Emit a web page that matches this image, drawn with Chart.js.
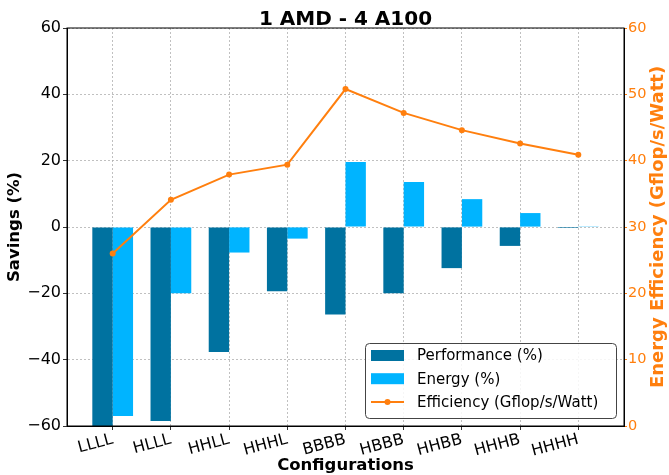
<!DOCTYPE html>
<html>
<head>
<meta charset="utf-8">
<script src="https://cdn.jsdelivr.net/npm/chart.js@4"></script>
<style>
  html, body { margin: 0; padding: 0; background: #fff; }
  #wrap { width: 669px; height: 475px; }
</style>
</head>
<body>
<div id="wrap"><canvas id="chart" width="669" height="475"></canvas></div>
<script>
// Data
const configs = ['LLLL', 'HLLL', 'HHLL', 'HHHL', 'BBBB', 'HBBB', 'HHBB', 'HHHB', 'HHHH'];
const performance = [-61, -58.5, -37.7, -19.4, -26.4, -20.0, -12.4, -5.7, -0.3];
const energy = [-57.0, -20.0, -7.7, -3.5, 19.6, 13.6, 8.4, 4.2, 0.2];
const efficiency = [26.0, 34.1, 37.9, 39.4, 50.8, 47.2, 44.6, 42.6, 40.9];

const DARK = '#0072a0';
const LIGHT = '#00b4ff';
const ORANGE = '#ff7f0e';
const FONT = "'DejaVu Sans', sans-serif";

const toPoints = arr => arr.map((v, i) => ({ x: i, y: v }));
const minus = v => String(v).replace('-', '\u2212');

// Frame, titles and legend inside the plot (matplotlib style)
const framePlugin = {
    id: 'frame',
    afterDatasetsDraw(chart) {
        const { ctx, chartArea: a } = chart;
        ctx.save();
        ctx.lineWidth = 1;
        ctx.strokeStyle = '#000';
        ctx.strokeRect(a.left, a.top, a.right - a.left, a.bottom - a.top);

        // title centred over the plot area
        ctx.fillStyle = '#000';
        ctx.font = 'bold 20px ' + FONT;
        ctx.textAlign = 'center';
        ctx.textBaseline = 'alphabetic';
        ctx.fillText('1 AMD - 4 A100', (a.left + a.right) / 2, 25);

        // right axis title, reading bottom to top
        ctx.save();
        ctx.translate(658, (a.top + a.bottom) / 2);
        ctx.rotate(-Math.PI / 2);
        ctx.fillStyle = ORANGE;
        ctx.font = 'bold 18px ' + FONT;
        ctx.textAlign = 'center';
        ctx.textBaseline = 'middle';
        ctx.fillText('Energy Efficiency (Gflop/s/Watt)', 0, 0);
        ctx.restore();

        // legend box
        const bx = 365, by = 343, bw = 251, bh = 75, r = 4;
        ctx.fillStyle = 'rgba(255,255,255,0.85)';
        ctx.strokeStyle = '#444';
        ctx.lineWidth = 1;
        ctx.beginPath();
        ctx.roundRect(bx + 0.5, by + 0.5, bw, bh, r);
        ctx.fill();
        ctx.stroke();

        const items = chart.data.datasets.map(ds => ({ label: ds.label, color: ds.backgroundColor, type: ds.type || 'bar' }));
        ctx.font = '15px ' + FONT;
        ctx.textAlign = 'left';
        ctx.textBaseline = 'middle';
        items.forEach((it, i) => {
            const cy = 355.5 + i * 23.2;
            if (it.type === 'line') {
                ctx.strokeStyle = ORANGE;
                ctx.lineWidth = 2;
                ctx.beginPath();
                ctx.moveTo(371, cy);
                ctx.lineTo(404, cy);
                ctx.stroke();
                ctx.fillStyle = ORANGE;
                ctx.beginPath();
                ctx.arc(387.5, cy, 3, 0, Math.PI * 2);
                ctx.fill();
            } else {
                ctx.fillStyle = it.color;
                ctx.fillRect(371, cy - 5.5, 33, 11);
            }
            ctx.fillStyle = '#000';
            ctx.fillText(it.label, 417, cy + 1);
        });
        ctx.restore();
    }
};

new Chart(document.getElementById('chart'), {
    type: 'bar',
    data: {
        datasets: [
            {
                label: 'Performance (%)',
                data: toPoints(performance),
                backgroundColor: DARK,
                yAxisID: 'y',
                categoryPercentage: 0.7,
                barPercentage: 1.0,
                order: 2
            },
            {
                label: 'Energy (%)',
                data: toPoints(energy),
                backgroundColor: LIGHT,
                yAxisID: 'y',
                categoryPercentage: 0.7,
                barPercentage: 1.0,
                order: 2
            },
            {
                type: 'line',
                label: 'Efficiency (Gflop/s/Watt)',
                data: toPoints(efficiency),
                borderColor: ORANGE,
                backgroundColor: ORANGE,
                borderWidth: 2,
                pointRadius: 3,
                pointBorderWidth: 0,
                yAxisID: 'y1',
                order: 1
            }
        ]
    },
    options: {
        responsive: false,
        animation: false,
        layout: { padding: { top: 28 } },
        plugins: {
            legend: { display: false },
            tooltip: { enabled: false },
            title: { display: false }
        },
        scales: {
            x: {
                type: 'linear',
                offset: false,
                min: -0.785,
                max: 8.785,
                afterBuildTicks: axis => { axis.ticks = configs.map((c, i) => ({ value: i })); },
                afterFit: s => { s.height = 49; },
                ticks: {
                    callback: v => configs[v],
                    color: '#000',
                    font: { family: FONT, size: 16 },
                    minRotation: 15,
                    maxRotation: 15,
                    padding: 0,
                    autoSkip: false
                },
                grid: { offset: false, color: '#b0b0b0', tickColor: '#000', tickLength: 4, lineWidth: 0.8 },
                border: { color: '#000', dash: [2, 2], width: 1 },
                title: {
                    display: true,
                    text: 'Configurations',
                    color: '#000',
                    font: { family: FONT, size: 16.5, weight: 'bold', lineHeight: 1.1 },
                    padding: { top: 0, bottom: 0 }
                }
            },
            y: {
                position: 'left',
                min: -60,
                max: 60,
                afterFit: s => { s.width = 67; },
                ticks: {
                    stepSize: 20,
                    color: '#000',
                    font: { family: FONT, size: 16 },
                    padding: 2,
                    callback: v => minus(v)
                },
                grid: { color: '#b0b0b0', tickColor: '#000', tickLength: 4, lineWidth: 0.8 },
                border: { color: '#000', dash: [2, 2], width: 1 },
                title: {
                    display: true,
                    text: 'Savings (%)',
                    color: '#000',
                    font: { family: FONT, size: 16.5, weight: 'bold' },
                    padding: { top: 5, bottom: 0 }
                }
            },
            y1: {
                position: 'right',
                min: 0,
                max: 60,
                afterFit: s => { s.width = 45; },
                ticks: {
                    stepSize: 10,
                    color: ORANGE,
                    font: { family: FONT, size: 14.5 },
                    padding: 1
                },
                grid: { drawOnChartArea: false, tickColor: ORANGE, tickLength: 3 },
                border: { color: '#000', width: 1 },
                title: { display: false }
            }
        }
    },
    plugins: [framePlugin]
});
</script>
</body>
</html>
